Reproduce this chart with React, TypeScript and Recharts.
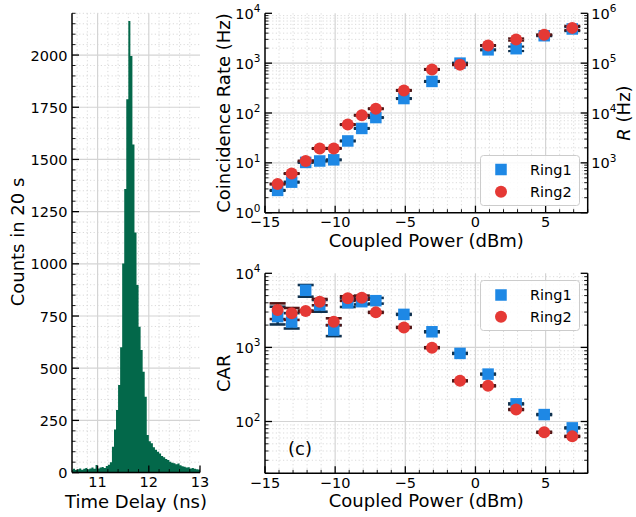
import React from 'react';
import { ComposedChart, Area, Scatter, XAxis, YAxis, CartesianGrid, ErrorBar } from 'recharts';

const FONT = "'DejaVu Sans', sans-serif";
const RING1 = '#1e88e5';
const RING2 = '#e53935';
const RING1_ERR = '#10324f';
const RING2_ERR = '#521616';
const HIST_GREEN = '#03684a';
const GRID_MAJOR = '#d4d4d4';
const GRID_MINOR = '#d6d6d6';
const AXIS_LINE = { stroke: '#000', strokeWidth: 1.5 };

// ---------------- Panel (a): coincidence histogram ----------------
const histFirstEdge = 10.48; // ns
const histBinWidth = 0.04; // ns
const histCounts = [
  14, 18, 12, 16, 20, 14, 18, 22, 16, 20,
  24, 18, 36, 20, 24, 27, 22, 32, 38, 50,
  124, 207, 300, 420, 600, 1002, 1358, 1788, 2163, 1995,
  1572, 1150, 898, 699, 587, 483, 363, 180, 150, 140,
  121, 110, 100, 92, 80, 73, 65, 60, 52, 47,
  45, 40, 43, 35, 30, 28, 24, 26, 20, 22,
  18, 16, 15,
];
const histXMajor = [11, 12, 13];
const histXMinor = [10.6, 10.8, 11.2, 11.4, 11.6, 11.8, 12.2, 12.4, 12.6, 12.8];
const histYMajor = [0, 250, 500, 750, 1000, 1250, 1500, 1750, 2000];
const histYMinorStep = 50;
const histYMax = 2200;

// ---------------- Panels (b), (c) ----------------
const powerDbm = [-14.1, -13.1, -12.1, -11.1, -10.1, -9.1, -8.1, -7.1, -5.1, -3.1, -1.1, 0.9, 2.9, 4.9, 6.9];

const rateRing1 = [2.8, 4.1, 10.2, 10.9, 11.5, 27.5, 49, 81, 195, 430, 1000, 1850, 1950, 3550, 4850];
const rateRing1Err = [0.06, 0.1, 0.2, 0.25, 0.25, 0.6, 1, 1.6, 4, 9, 20, 40, 200, 70, 450];
const rateRing2 = [3.75, 6.1, 10.9, 19.4, 19.5, 58.6, 90, 122, 284, 748, 930, 2260, 2980, 3700, 5100];
const rateRing2Err = [0.08, 0.12, 0.2, 0.4, 0.4, 1.2, 1.8, 2.5, 6, 15, 18, 45, 150, 75, 500];

const carRing1 = [2600, 2200, 5900, 3730, 1710, 4010, 4140, 4270, 2790, 1625, 830, 436, 173, 124, 82];
const carRing1Low = [2040, 1800, 4830, 3030, 1420, 3510, 3800, 3900, 2750, 1600, 818, 430, 170.5, 122.2, 80.8];
const carRing1High = [3540, 2900, 6950, 4360, 2000, 4600, 4500, 4650, 2830, 1650, 842, 442, 175.5, 125.8, 83.2];
const carRing2 = [3190, 2880, 3100, 4140, 2220, 4590, 4690, 2970, 1860, 990, 354, 303, 145, 71.6, 63];
const carRing2Low = [2410, 2350, 3055, 3700, 1990, 4250, 4400, 2925, 1833, 975, 349, 298.5, 143, 70.5, 62.1];
const carRing2High = [3930, 3400, 3145, 4500, 2470, 4900, 5000, 3015, 1887, 1005, 359, 307.5, 147, 72.7, 63.9];

const powerMajor = [-15, -10, -5, 0, 5];
const powerMin = -15;
const powerMax = 8;
const rateDecades = [1, 10, 100, 1000, 10000];
const rightRateDecades = [100, 1000, 10000, 100000, 1000000];
const carDecades = [100, 1000, 10000];

// ---------------- derived tables ----------------
const histData = histCounts.map((c, k) => ({ t: +(histFirstEdge + k * histBinWidth).toFixed(3), count: c }));
histData.push({ t: +(histFirstEdge + histCounts.length * histBinWidth).toFixed(3), count: histCounts[histCounts.length - 1] });
const histYMinor: number[] = [];
for (let v = histYMinorStep; v <= histYMax; v += histYMinorStep) if (!histYMajor.includes(v)) histYMinor.push(v);
const histXTicks = [...histXMajor, ...histXMinor].sort((a, b) => a - b);
const histYTicks = [...histYMajor, ...histYMinor].sort((a, b) => a - b);

const powerMinor: number[] = [];
for (let v = powerMin + 1; v <= powerMax; v++) if (!powerMajor.includes(v)) powerMinor.push(v);
const powerTicks = [...powerMajor, ...powerMinor].sort((a, b) => a - b);

function logMinors(decades: number[], lo: number, hi: number) {
  const out: number[] = [];
  for (const d of decades) for (let m = 2; m <= 9; m++) { const v = d * m; if (v >= lo && v <= hi) out.push(v); }
  return out;
}
const rateMinor = logMinors([1, 10, 100, 1000], 1, 10000);
const rightRateMinor = logMinors([100, 1000, 10000, 100000], 100, 1000000);
const carMinor = logMinors([10, 100, 1000], 20, 10000);

const ring1Rate = powerDbm.map((x, i) => ({ x, y: rateRing1[i], err: rateRing1Err[i] }));
const ring2Rate = powerDbm.map((x, i) => ({ x, y: rateRing2[i], err: rateRing2Err[i] }));
const ring1Car = powerDbm.map((x, i) => ({ x, y: carRing1[i], err: [carRing1[i] - carRing1Low[i], carRing1High[i] - carRing1[i]] }));
const ring2Car = powerDbm.map((x, i) => ({ x, y: carRing2[i], err: [carRing2[i] - carRing2Low[i], carRing2High[i] - carRing2[i]] }));

// ---------------- tick helpers ----------------
const TXT = { fontFamily: FONT, fontSize: 14.5, fill: '#000' };
type Side = 'bottom' | 'top' | 'left' | 'right';

const fmtLinear = (v: number) => (v < 0 ? '\u2212' + Math.abs(v) : String(v));
const fmtPow = (v: number) => {
  const n = Math.round(Math.log10(v));
  return [
    <tspan key="b">10</tspan>,
    <tspan key="e" dy={-6.5} fontSize={10.5}>{n}</tspan>,
  ];
};

function makeTick(side: Side, majors: number[], labelFor?: (v: number) => React.ReactNode, labelOk?: (v: number) => boolean) {
  return (props: any) => {
    const x = Number(props.x);
    const y = Number(props.y);
    const v = Number(props.payload && props.payload.value);
    const major = majors.some((m) => Math.abs(m - v) <= 1e-9 * Math.max(1, Math.abs(m)));
    const len = major ? 7 : 3.5;
    const sw = major ? 1.3 : 0.9;
    let x2 = x;
    let y2 = y;
    if (side === 'bottom') y2 = y - len;
    else if (side === 'top') y2 = y + len;
    else if (side === 'left') x2 = x + len;
    else x2 = x - len;
    let text: React.ReactNode = null;
    if (major && labelFor && (!labelOk || labelOk(v))) {
      const lab = labelFor(v);
      if (side === 'bottom') text = <text x={x} y={y + 14.5} textAnchor="middle" {...TXT}>{lab}</text>;
      else if (side === 'left') text = <text x={x - 4.5} y={y + 5.5} textAnchor="end" {...TXT}>{lab}</text>;
      else if (side === 'right') text = <text x={x + 3.5} y={y + 5.5} textAnchor="start" {...TXT}>{lab}</text>;
    }
    return (
      <g>
        <line x1={x} y1={y} x2={x2} y2={y2} stroke="#000" strokeWidth={sw} />
        {text}
      </g>
    );
  };
}

const axisCommon = {
  type: 'number' as const,
  allowDataOverflow: true,
  interval: 0 as const,
  tickSize: 0,
  tickMargin: 0,
  tickLine: false,
  axisLine: AXIS_LINE,
};

function Title({ x, y, rotate, children, anchor = 'middle' }: any) {
  return (
    <text
      x={x}
      y={y}
      textAnchor={anchor}
      transform={rotate ? `rotate(-90 ${x} ${y})` : undefined}
      fontFamily={FONT}
      fontSize={18}
      fill="#000"
    >
      {children}
    </text>
  );
}

// ---------------- Panel (a) ----------------
function PanelA() {
  return (
    <ComposedChart width={210} height={517} data={histData} margin={{ top: 13.3, right: 10, bottom: 0, left: 0 }}>
      <CartesianGrid horizontalValues={histYMinor} verticalValues={histXMinor} stroke={GRID_MINOR} strokeDasharray="1.2 2.4" strokeWidth={0.9} />
      <CartesianGrid horizontalValues={histYMajor} verticalValues={[11, 12]} stroke={GRID_MAJOR} strokeWidth={1.2} />
      <XAxis
        {...axisCommon}
        dataKey="t"
        domain={[10.5, 13]}
        ticks={histXTicks}
        height={44.4}
        tick={makeTick('bottom', histXMajor, fmtLinear)}
        label={() => <Title x={136} y={508}>Time Delay (ns)</Title>}
      />
      <XAxis
        {...axisCommon}
        xAxisId="top"
        orientation="top"
        domain={[10.5, 13]}
        ticks={histXTicks}
        height={0}
        tick={makeTick('top', histXMajor)}
        label={() => <Title x={88.5} y={43} anchor="start">(a)</Title>}
      />
      <YAxis
        {...axisCommon}
        dataKey="count"
        domain={[0, histYMax]}
        ticks={histYTicks}
        width={72}
        tick={makeTick('left', histYMajor, fmtLinear)}
        label={() => <Title x={24} y={242} rotate>Counts in 20 s</Title>}
      />
      <YAxis
        {...axisCommon}
        yAxisId="right"
        orientation="right"
        domain={[0, histYMax]}
        ticks={histYTicks}
        width={0}
        tick={makeTick('right', histYMajor)}
      />
      <Area type="stepAfter" dataKey="count" stroke="none" fill={HIST_GREEN} fillOpacity={1} isAnimationActive={false} />
    </ComposedChart>
  );
}

const SquareMarker = (p: any) => <rect x={p.cx - 5.75} y={p.cy - 5.75} width={11.5} height={11.5} fill={RING1} />;
const CircleMarker = (p: any) => <circle cx={p.cx} cy={p.cy} r={6} fill={RING2} />;
const NoMarker = () => <g />;

function LegendBox({ left, top, y1, y2 }: { left: number; top: number; y1: number; y2: number }) {
  return (
    <svg style={{ position: 'absolute', left, top }} width={101} height={52}>
      <rect x={0.5} y={0.5} width={99} height={50} rx={3} fill="#fff" fillOpacity={0.85} stroke="#cccccc" strokeWidth={1} />
      <rect x={21 - 5.75} y={y1 - 5.75} width={11.5} height={11.5} fill={RING1} />
      <text x={50} y={y1 + 5} {...TXT}>Ring1</text>
      <circle cx={21} cy={y2} r={6} fill={RING2} />
      <text x={50} y={y2 + 5} {...TXT}>Ring2</text>
    </svg>
  );
}

// ---------------- Panel (b) ----------------
function PanelB() {
  return (
    <ComposedChart width={426} height={255} margin={{ top: 13.3, right: 0, bottom: 0, left: 0 }}>
      <CartesianGrid horizontalValues={rateMinor} verticalValues={powerMinor} stroke={GRID_MINOR} strokeDasharray="1.2 2.4" strokeWidth={0.9} />
      <CartesianGrid horizontalValues={[10, 100, 1000]} verticalValues={[-10, -5, 0, 5]} stroke={GRID_MAJOR} strokeWidth={1.2} />
      <XAxis
        {...axisCommon}
        dataKey="x"
        domain={[powerMin, powerMax]}
        ticks={powerTicks}
        height={42.3}
        tick={makeTick('bottom', powerMajor, fmtLinear)}
        label={() => <Title x={216.3} y={247.3}>Coupled Power (dBm)</Title>}
      />
      <XAxis
        {...axisCommon}
        xAxisId="top"
        orientation="top"
        domain={[powerMin, powerMax]}
        ticks={powerTicks}
        height={0}
        tick={makeTick('top', powerMajor)}
        label={() => <Title x={78} y={43} anchor="start">(b)</Title>}
      />
      <YAxis
        {...axisCommon}
        dataKey="y"
        scale="log"
        domain={[1, 10000]}
        ticks={[...rateDecades, ...rateMinor].sort((a, b) => a - b)}
        width={55}
        tick={makeTick('left', rateDecades, fmtPow)}
        label={() => <Title x={19.5} y={113} rotate>Coincidence Rate (Hz)</Title>}
      />
      <YAxis
        {...axisCommon}
        yAxisId="right"
        orientation="right"
        scale="log"
        domain={[100, 1000000]}
        ticks={[...rightRateDecades, ...rightRateMinor].sort((a, b) => a - b)}
        width={48.3}
        tick={makeTick('right', rightRateDecades, fmtPow, (v) => v >= 1000)}
        label={() => (
          <Title x={419.5} y={113} rotate>
            <tspan fontStyle="italic">R</tspan> (Hz)
          </Title>
        )}
      />
      <Scatter data={ring1Rate} shape={SquareMarker} isAnimationActive={false} />
      <Scatter data={ring1Rate} shape={NoMarker} isAnimationActive={false}>
        <ErrorBar dataKey="err" direction="y" width={8} stroke={RING1_ERR} strokeWidth={2.2} isAnimationActive={false} />
      </Scatter>
      <Scatter data={ring2Rate} shape={CircleMarker} isAnimationActive={false} />
      <Scatter data={ring2Rate} shape={NoMarker} isAnimationActive={false}>
        <ErrorBar dataKey="err" direction="y" width={8} stroke={RING2_ERR} strokeWidth={2.2} isAnimationActive={false} />
      </Scatter>
    </ComposedChart>
  );
}

// ---------------- Panel (c) ----------------
function PanelC() {
  return (
    <ComposedChart width={426} height={262} margin={{ top: 18.3, right: 0, bottom: 0, left: 0 }}>
      <CartesianGrid horizontalValues={carMinor} verticalValues={powerMinor} stroke={GRID_MINOR} strokeDasharray="1.2 2.4" strokeWidth={0.9} />
      <CartesianGrid horizontalValues={[100, 1000]} verticalValues={[-10, -5, 0, 5]} stroke={GRID_MAJOR} strokeWidth={1.2} />
      <XAxis
        {...axisCommon}
        dataKey="x"
        domain={[powerMin, powerMax]}
        ticks={powerTicks}
        height={43.7}
        tick={makeTick('bottom', powerMajor, fmtLinear)}
        label={() => (
          <g>
            <Title x={216.3} y={252.3}>Coupled Power (dBm)</Title>
            <Title x={78} y={200} anchor="start">(c)</Title>
          </g>
        )}
      />
      <XAxis
        {...axisCommon}
        xAxisId="top"
        orientation="top"
        domain={[powerMin, powerMax]}
        ticks={powerTicks}
        height={0}
        tick={makeTick('top', powerMajor)}
      />
      <YAxis
        {...axisCommon}
        dataKey="y"
        scale="log"
        domain={[20, 10000]}
        ticks={[...carDecades, ...carMinor].sort((a, b) => a - b)}
        width={55}
        tick={makeTick('left', carDecades, fmtPow)}
        label={() => <Title x={20} y={118.3} rotate>CAR</Title>}
      />
      <YAxis
        {...axisCommon}
        yAxisId="right"
        orientation="right"
        scale="log"
        domain={[20, 10000]}
        ticks={[...carDecades, ...carMinor].sort((a, b) => a - b)}
        width={48.3}
        tick={makeTick('right', carDecades)}
      />
      <Scatter data={ring1Car} shape={SquareMarker} isAnimationActive={false} />
      <Scatter data={ring1Car} shape={NoMarker} isAnimationActive={false}>
        <ErrorBar dataKey="err" direction="y" width={8} stroke={RING1_ERR} strokeWidth={2.6} isAnimationActive={false} />
      </Scatter>
      <Scatter data={ring2Car} shape={CircleMarker} isAnimationActive={false} />
      <Scatter data={ring2Car} shape={NoMarker} isAnimationActive={false}>
        <ErrorBar dataKey="err" direction="y" width={8} stroke={RING2_ERR} strokeWidth={2.6} isAnimationActive={false} />
      </Scatter>
    </ComposedChart>
  );
}

export default function App() {
  return (
    <div style={{ position: 'absolute', left: 0, top: 0, width: 636, height: 517, background: '#fff', overflow: 'hidden' }}>
      <div style={{ position: 'absolute', left: 0, top: 0 }}>
        <PanelA />
      </div>
      <div style={{ position: 'absolute', left: 210, top: 0 }}>
        <PanelB />
      </div>
      <div style={{ position: 'absolute', left: 210, top: 255 }}>
        <PanelC />
      </div>
      <LegendBox left={480} top={155} y1={14.5} y2={36.7} />
      <LegendBox left={480} top={280} y1={15} y2={36.7} />
    </div>
  );
}
